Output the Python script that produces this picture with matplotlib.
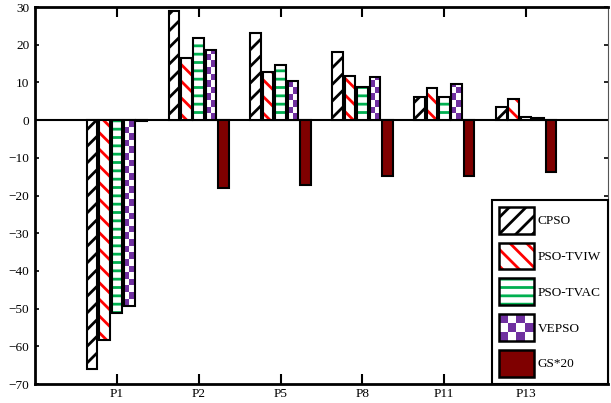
import numpy as np
import matplotlib
matplotlib.use("Agg")
import matplotlib.pyplot as plt
from matplotlib.colors import ListedColormap
from matplotlib.patches import Rectangle
from matplotlib.legend_handler import HandlerBase

plt.rcParams["font.family"] = ["Liberation Serif", "DejaVu Serif"]
plt.rcParams["hatch.linewidth"] = 2.0

# data
problems = ["P1", "P2", "P5", "P8", "P11", "P13"]
cpso = [-66.1, 28.9, 23.1, 18.0, 6.2, 3.6]
pso_tviw = [-58.4, 16.6, 12.8, 11.6, 8.5, 5.6]
pso_tvac = [-51.1, 21.9, 14.6, 8.7, 6.2, 0.9]
vepso = [-49.2, 18.7, 10.3, 11.5, 9.5, 0.5]
gs20 = [-0.2, -18.0, -17.1, -14.9, -14.8, -13.8]
y_ticks = [-70, -60, -50, -40, -30, -20, -10, 0, 10, 20, 30]

purple = "#7030a0"
series = [
    ("CPSO", cpso, "black", "//"),
    ("PSO-TVIW", pso_tviw, "#ff0000", "\\\\"),
    ("PSO-TVAC", pso_tvac, "#00b050", "--"),
    ("VEPSO", vepso, purple, None),
    ("GS*20", gs20, "#7f0000", None),
]

checker_cmap = ListedColormap(["white", purple])


class CheckerHandle(Rectangle):
    pass


class HandlerChecker(HandlerBase):
    def create_artists(self, legend, orig_handle, xdescent, ydescent,
                       width, height, fontsize, trans):
        arts = [Rectangle((-xdescent, -ydescent), width, height,
                          facecolor="white", edgecolor="none", transform=trans)]
        nc, nr = 4, 3
        cw, rh = width / nc, height / nr
        for r in range(nr):
            for c in range(nc):
                if (r + c) % 2 == 0:
                    arts.append(Rectangle((-xdescent + c * cw, -ydescent + r * rh), cw, rh,
                                          facecolor=purple, edgecolor="none", transform=trans))
        arts.append(Rectangle((-xdescent, -ydescent), width, height, fill=False,
                              edgecolor="black", lw=1.8, transform=trans))
        return arts


fig = plt.figure(figsize=(6.11, 4.03), dpi=100)
ax = fig.add_axes([0.0573, 0.0471, 0.9378, 0.9355])

x = np.arange(1, len(problems) + 1)
step = 0.152
width = 0.13
handles = []
for i, (name, vals, color, hatch) in enumerate(series):
    pos = x + (i - 2) * step
    if name == "VEPSO":
        frames = ax.bar(pos, vals, width, facecolor="white", edgecolor="none",
                        lw=0, zorder=3)
        for b in frames:
            x0, y0 = b.get_x(), b.get_y()
            h = b.get_height()
            sq = 1.75
            nrow = int(np.ceil(abs(h) / sq)) + 1
            pat = (np.add.outer(np.arange(nrow), np.arange(2)) % 2)
            if h >= 0:
                ext = [x0, x0 + b.get_width(), y0, y0 + nrow * sq]
                img = ax.imshow(pat, cmap=checker_cmap, extent=ext, origin="lower",
                                aspect="auto", interpolation="nearest", zorder=3.5)
            else:
                ext = [x0, x0 + b.get_width(), y0 - nrow * sq, y0]
                img = ax.imshow(pat, cmap=checker_cmap, extent=ext, origin="upper",
                                aspect="auto", interpolation="nearest", zorder=3.5)
            img.set_clip_path(b)
        ax.bar(pos, vals, width, fill=False, edgecolor="black", lw=1.5, zorder=4)
        handles.append(CheckerHandle((0, 0), 1, 1))
    elif hatch is None:
        ax.bar(pos, vals, width, facecolor=color, edgecolor="black", lw=1.5, zorder=3)
        handles.append(Rectangle((0, 0), 1, 1, facecolor=color, edgecolor="black", lw=1.8))
    else:
        ax.bar(pos, vals, width, facecolor="white", edgecolor=color, lw=0,
               hatch=hatch, zorder=3)
        ax.bar(pos, vals, width, fill=False, edgecolor="black", lw=1.5, zorder=4)
        h1 = Rectangle((0, 0), 1, 1, facecolor="white", edgecolor=color, lw=0, hatch=hatch)
        h2 = Rectangle((0, 0), 1, 1, fill=False, edgecolor="black", lw=1.8)
        handles.append((h1, h2))

ax.axhline(0, color="black", lw=1.5, zorder=2)

ax.set_xlim(0, len(problems) + 1)
ax.set_ylim(-70, 30)
ax.set_xticks(x)
ax.set_xticklabels(problems)
ax.set_yticks(y_ticks)
ax.tick_params(axis="x", direction="in", length=7.5, width=1.5, top=True,
               labelsize=9.5, pad=3)
ax.tick_params(axis="y", direction="in", length=3, width=1.2, right=True,
               labelsize=9.5, pad=4)
for s in ["left", "bottom", "top"]:
    ax.spines[s].set_linewidth(2)
ax.spines["right"].set_linewidth(0.8)
ax.spines["right"].set_color("#555555")

leg = ax.legend(handles, [s[0] for s in series], loc="lower right",
                bbox_to_anchor=(1, 0), borderaxespad=0, fontsize=9.5,
                handlelength=2.6, handleheight=2.75, labelspacing=0.68,
                handletextpad=0.3, borderpad=0.55, fancybox=False,
                framealpha=1, edgecolor="black",
                handler_map={CheckerHandle: HandlerChecker()})
leg.get_frame().set_linewidth(1.5)
leg.set_zorder(10)
fig.savefig("out.png", dpi=100)
